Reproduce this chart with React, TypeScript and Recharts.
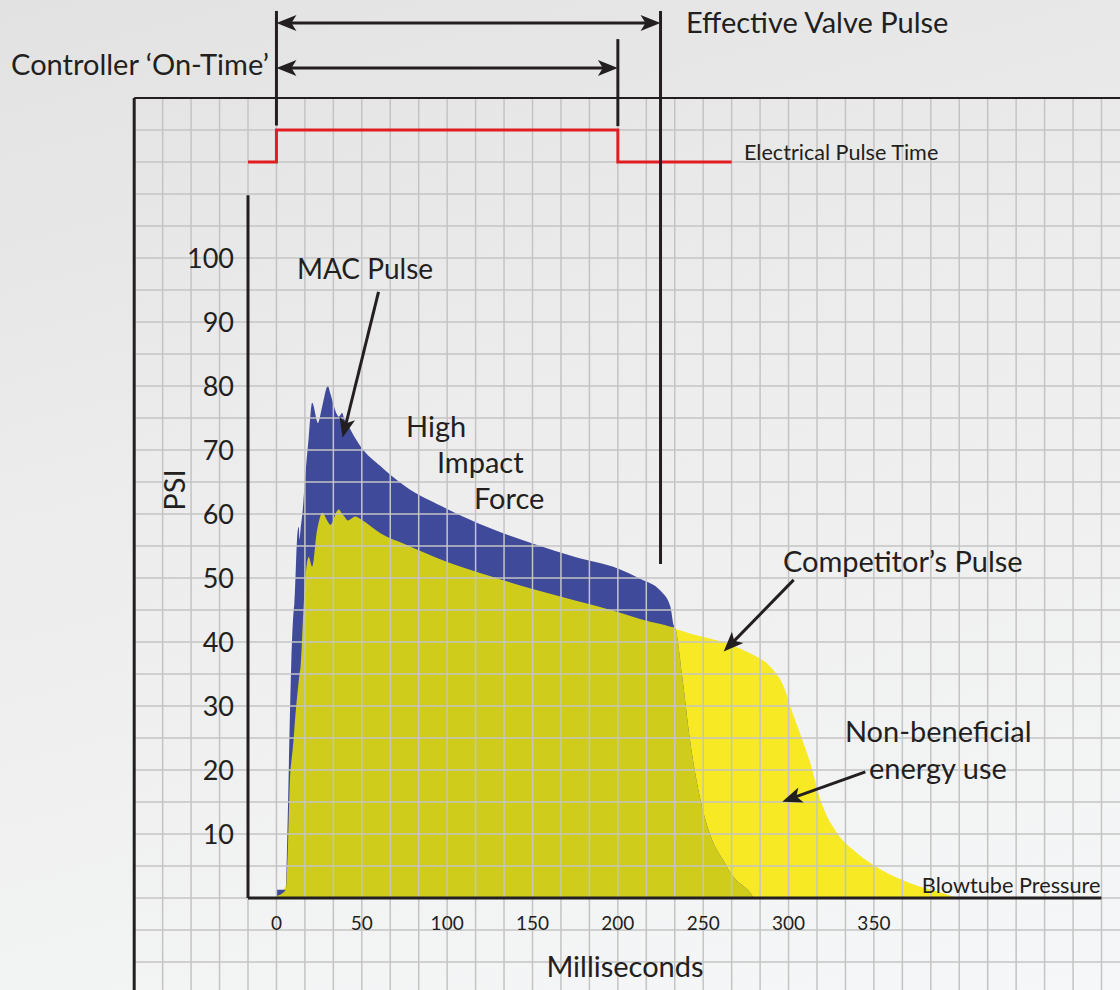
import React from "react";
import {
    ComposedChart,
    Area,
    Line,
    XAxis,
    YAxis,
    ReferenceLine,
    ReferenceDot,
} from "recharts";

// sample times (ms) shared by both pressure traces
const TIME_MS = [
    0, 5.5, 6.3, 8.2, 8.6, 10.1, 10.5, 12.3, 13.1, 13.5, 14.1, 15.8, 16, 18.9,
    20.9, 23.8, 24.2, 26.8, 30.1, 31.6, 35.6, 36.5, 38.5, 39.8, 41.8, 46.3,
    49.2, 60.9, 75, 100, 125, 150, 175, 200, 213, 225, 230.8, 232.7, 233.7,
    237.7, 242.5, 248.4, 256, 262, 266, 277.7, 280, 289.4, 297.2, 301.1, 307,
    312.8, 318.7, 328.5, 340.2, 354.2, 371.4, 391, 399,
];

// MAC pulse, PSI
const MAC_PSI = [
    1.3, 1.3, 9, 32, 36, 45, 46, 57, 58, 56, 57.5, 62, 62.8, 72, 77.4, 74.5,
    74.2, 76.8, 80, 78.8, 75.5, 75.2, 75.8, 74.8, 73.9, 71.8, 70.6, 67.5, 64.4,
    60.8, 57.8, 55.4, 53.3, 51.5, 49.9, 48, 45.5, 42.6, 42.1, 34.6, 24.2, 15.3,
    8.6, 5.8, 3.9, 0.8, 0, 0, 0, 0, 0, 0, 0, 0, 0, 0, 0, 0, 0,
];

// competitor's pulse, PSI
const COMPETITOR_PSI = [
    0.3, 2, 5, 20, 21, 25, 26.5, 32, 34, 35, 36, 45, 46, 53.3, 51.8, 57.5, 58,
    60.2, 58.8, 58.3, 60.5, 60.7, 60, 59.6, 59, 59.6, 59.2, 57, 55.3, 52.5,
    50.3, 48.3, 46.5, 44.7, 43.6, 42.8, 42.4, 42.3, 42.1, 41.7, 41.3, 40.9,
    40.4, 40, 39.6, 38.2, 37.9, 36.1, 33, 29.9, 25.5, 21, 15.3, 10.1, 7, 4.4,
    2.3, 0.7, 0,
];

// electrical pulse (drawn above the pressure traces)
const PULSE_MS = [-50 / 3, 0, 200, 800 / 3];
const PULSE_LEVEL = [115, 120, 115, 115];

const X_TICKS = [0, 50, 100, 150, 200, 250, 300, 350];
const Y_TICKS = [10, 20, 30, 40, 50, 60, 70, 80, 90, 100];

const tableData = TIME_MS.map((t, i) => ({
    t,
    mac: MAC_PSI[i],
    competitor: COMPETITOR_PSI[i],
    overlap: Math.min(MAC_PSI[i], COMPETITOR_PSI[i]),
}));
const pulseData = PULSE_MS.map((t, i) => ({ t, level: PULSE_LEVEL[i] }));

const X_MIN = -50 / 3;
const X_MAX = 494.17;
const Y_MAX = 140.3125;

const PANEL_LEFT = -250 / 3;
const PANEL_TOP = 125;
const PANEL_BOTTOM = -16;
const GRID_STEP_MS = 50 / 3;
const GRID_STEP_PSI = 5;

const GRID_V = Array.from({ length: 35 }, (_, k) => PANEL_LEFT + (k + 1) * GRID_STEP_MS);
const GRID_H = Array.from({ length: 28 }, (_, k) => PANEL_TOP - (k + 1) * GRID_STEP_PSI);

const INK = "#231f20";
const FONT = "Lato, 'Open Sans', sans-serif";

type Pt = { x: number; y: number };

const MARKERS: [Pt, Pt][] = [
    [{ x: 0, y: 138.6 }, { x: 0, y: 120.7 }],
    [{ x: 200, y: 134.2 }, { x: 200, y: 120.6 }],
    [{ x: 225, y: 138.6 }, { x: 225, y: 52.2 }],
];

const ARROWS: { from: Pt; to: Pt; both: boolean }[] = [
    { from: { x: 0, y: 136.7 }, to: { x: 225, y: 136.7 }, both: true },
    { from: { x: 0, y: 129.7 }, to: { x: 200, y: 129.7 }, both: true },
    { from: { x: 59.8, y: 94.7 }, to: { x: 38.7, y: 71.9 }, both: false },
    { from: { x: 303, y: 49.7 }, to: { x: 262, y: 38.5 }, both: false },
    { from: { x: 345, y: 19.7 }, to: { x: 296.3, y: 15.05 }, both: false },
];

type Note = {
    text: string;
    x: number;
    y: number;
    size: number;
    anchor?: "start" | "middle" | "end";
    rotate?: number;
};

const NOTES: Note[] = [
    { text: "Effective Valve Pulse", x: 239.9, y: 135.2, size: 29 },
    { text: "Controller \u2018On-Time\u2019", x: -4.4, y: 128.6, size: 29, anchor: "end" },
    { text: "Electrical Pulse Time", x: 273.9, y: 115.3, size: 21.6 },
    { text: "Blowtube Pressure", x: 378.1, y: 0.8, size: 21.7 },
    { text: "MAC Pulse", x: 12, y: 96.7, size: 28 },
    { text: "High", x: 75.9, y: 72, size: 29 },
    { text: "Impact", x: 94, y: 66.4, size: 29 },
    { text: "Force", x: 115.7, y: 60.8, size: 29 },
    { text: "Competitor\u2019s Pulse", x: 296.7, y: 50.9, size: 29 },
    { text: "Non-beneficial", x: 333, y: 24.4, size: 29 },
    { text: "energy use", x: 347.1, y: 18.6, size: 29 },
    { text: "Milliseconds", x: 204.2, y: -12.3, size: 29, anchor: "middle" },
    { text: "PSI", x: -60.6, y: 63.75, size: 29, anchor: "middle", rotate: -90 },
];

const headPoints = (tx: number, ty: number, ux: number, uy: number) => {
    const L = 20;
    const W = 8;
    const N = 5;
    const bx = tx - ux * L;
    const by = ty - uy * L;
    const nx = -uy;
    const ny = ux;
    return `${tx},${ty} ${bx + nx * W},${by + ny * W} ${tx - ux * (L - N)},${ty - uy * (L - N)} ${bx - nx * W},${by - ny * W}`;
};

const arrowShape = (both: boolean) => (p: any) => {
    const { x1, y1, x2, y2 } = p;
    const len = Math.hypot(x2 - x1, y2 - y1) || 1;
    const ux = (x2 - x1) / len;
    const uy = (y2 - y1) / len;
    const inset = 14;
    return (
        <g>
            <line
                x1={both ? x1 + ux * inset : x1}
                y1={both ? y1 + uy * inset : y1}
                x2={x2 - ux * inset}
                y2={y2 - uy * inset}
                stroke={INK}
                strokeWidth={3}
            />
            <polygon points={headPoints(x2, y2, ux, uy)} fill={INK} />
            {both && <polygon points={headPoints(x1, y1, -ux, -uy)} fill={INK} />}
        </g>
    );
};

const noteShape = (n: Note) => (p: any) => (
    <text
        x={p.cx}
        y={p.cy}
        fontSize={n.size}
        fontFamily={FONT}
        fill={INK}
        textAnchor={n.anchor ?? "start"}
        dominantBaseline={n.rotate ? "central" : undefined}
        transform={n.rotate ? `rotate(${n.rotate} ${p.cx} ${p.cy})` : undefined}
    >
        {n.text}
    </text>
);

const PulseChart = () => {
    return (
        <div
            style={{
                position: "absolute",
                left: 0,
                top: 0,
                width: 1120,
                height: 990,
                background: "linear-gradient(165deg, #e2e2e2 0%, #ececec 40%, #f6f7f8 100%)",
            }}
        >
            <ComposedChart
                width={1120}
                height={990}
                data={tableData}
                margin={{ top: 0, right: 0, bottom: 0, left: 0 }}
            >
                <XAxis
                    dataKey="t"
                    type="number"
                    domain={[X_MIN, X_MAX]}
                    allowDataOverflow
                    ticks={X_TICKS}
                    interval={0}
                    height={92}
                    axisLine={false}
                    tickLine={false}
                    tickSize={6}
                    tickMargin={13}
                    tick={{ fontSize: 19, fontFamily: FONT, fill: INK }}
                />
                <YAxis
                    type="number"
                    domain={[0, Y_MAX]}
                    allowDataOverflow
                    ticks={Y_TICKS}
                    interval={0}
                    width={248}
                    axisLine={false}
                    tickLine={false}
                    tickSize={6}
                    tickMargin={8}
                    tick={{ fontSize: 27, fontFamily: FONT, fill: INK }}
                />

                <Area
                    type="monotone"
                    dataKey="competitor"
                    stroke="none"
                    fill="#f7e924"
                    fillOpacity={1}
                    dot={false}
                    activeDot={false}
                    isAnimationActive={false}
                />
                <Area
                    type="monotone"
                    dataKey="mac"
                    stroke="none"
                    fill="#3f4a9b"
                    fillOpacity={1}
                    dot={false}
                    activeDot={false}
                    isAnimationActive={false}
                />
                <Area
                    type="monotone"
                    dataKey="overlap"
                    stroke="none"
                    fill="#d0cc1b"
                    fillOpacity={1}
                    dot={false}
                    activeDot={false}
                    isAnimationActive={false}
                />

                {GRID_V.map((x) => (
                    <ReferenceLine
                        key={`gv${x}`}
                        segment={[{ x, y: PANEL_TOP }, { x, y: PANEL_BOTTOM }]}
                        stroke="#c4c4c4"
                        strokeWidth={1.5}
                        ifOverflow="visible"
                    />
                ))}
                {GRID_H.map((y) => (
                    <ReferenceLine
                        key={`gh${y}`}
                        segment={[{ x: PANEL_LEFT, y }, { x: X_MAX, y }]}
                        stroke="#c4c4c4"
                        strokeWidth={1.5}
                        ifOverflow="visible"
                    />
                ))}

                {/* panel border */}
                <ReferenceLine
                    segment={[{ x: PANEL_LEFT, y: PANEL_TOP }, { x: PANEL_LEFT, y: PANEL_BOTTOM }]}
                    stroke={INK}
                    strokeWidth={3}
                    ifOverflow="visible"
                />
                <ReferenceLine
                    segment={[{ x: PANEL_LEFT, y: PANEL_TOP }, { x: X_MAX, y: PANEL_TOP }]}
                    stroke={INK}
                    strokeWidth={2}
                    ifOverflow="visible"
                />

                {/* axes */}
                <ReferenceLine
                    segment={[{ x: X_MIN, y: 0 }, { x: 483.3, y: 0 }]}
                    stroke={INK}
                    strokeWidth={3}
                    ifOverflow="visible"
                />
                <ReferenceLine
                    segment={[{ x: X_MIN, y: 0 }, { x: X_MIN, y: 109.8 }]}
                    stroke={INK}
                    strokeWidth={3}
                    ifOverflow="visible"
                />

                <Line
                    data={pulseData}
                    dataKey="level"
                    type="stepAfter"
                    stroke="#e11d22"
                    strokeWidth={3}
                    dot={false}
                    activeDot={false}
                    isAnimationActive={false}
                />

                {MARKERS.map(([a, b], i) => (
                    <ReferenceLine
                        key={`m${i}`}
                        segment={[a, b]}
                        stroke={INK}
                        strokeWidth={3}
                        ifOverflow="visible"
                    />
                ))}
                {ARROWS.map((a, i) => (
                    <ReferenceLine
                        key={`a${i}`}
                        segment={[a.from, a.to]}
                        shape={arrowShape(a.both)}
                        ifOverflow="visible"
                    />
                ))}
                {NOTES.map((n) => (
                    <ReferenceDot
                        key={n.text}
                        x={n.x}
                        y={n.y}
                        r={1}
                        shape={noteShape(n)}
                        ifOverflow="visible"
                    />
                ))}
            </ComposedChart>
        </div>
    );
};

export default function App() {
    return <PulseChart />;
}
